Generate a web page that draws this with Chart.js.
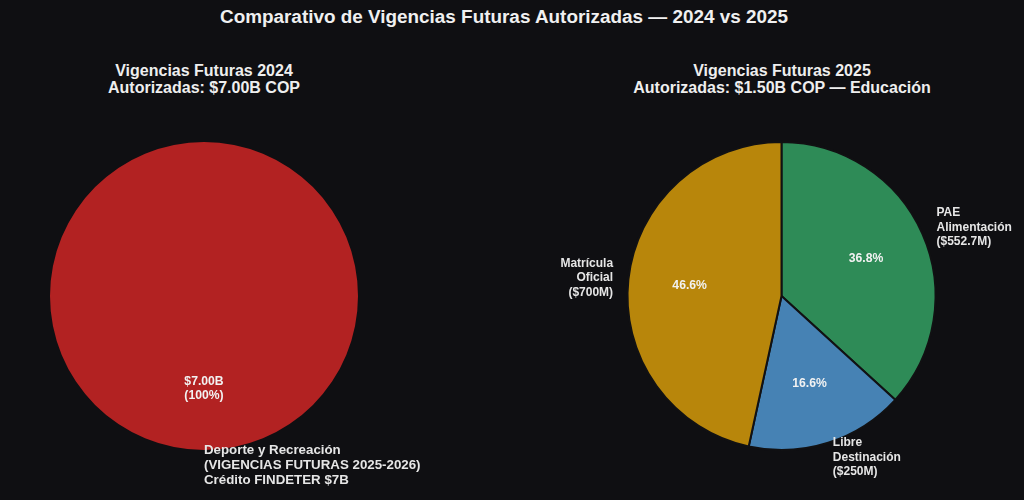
<!DOCTYPE html>
<html><head><meta charset="utf-8">
<script src="https://cdn.jsdelivr.net/npm/chart.js@4.4.1/dist/chart.umd.min.js"></script>
<style>
html,body{margin:0;padding:0;background:#0f0f12;width:1024px;height:500px;overflow:hidden;font-family:"Liberation Sans",Arial,sans-serif;}
#title{position:absolute;left:-8px;top:6px;width:1024px;text-align:center;color:#f0f0f0;font-weight:bold;font-size:18.9px;line-height:22px;white-space:nowrap;}
.sub{position:absolute;top:62px;width:400px;text-align:center;color:#eeeeee;font-weight:bold;font-size:16px;line-height:17px;white-space:nowrap;}
.wrap{position:absolute;top:0;width:512px;height:500px;}
</style></head>
<body>
<div id="title">Comparativo de Vigencias Futuras Autorizadas — 2024 vs 2025</div>
<div class="sub" style="left:4px">Vigencias Futuras 2024<br>Autorizadas: $7.00B COP</div>
<div class="sub" style="left:582px">Vigencias Futuras 2025<br>Autorizadas: $1.50B COP — Educación</div>
<div class="wrap" style="left:0"><canvas id="c1" width="512" height="500"></canvas></div>
<div class="wrap" style="left:512px"><canvas id="c2" width="512" height="500"></canvas></div>
<script>
// ---- Data (values in millions of COP) ----
const categories2024 = ["Deporte y Recreación\n(VIGENCIAS FUTURAS 2025-2026)\nCrédito FINDETER $7B"];
const values2024 = [7000];
const colors2024 = ["#b22222"];

const categories2025 = ["PAE\nAlimentación", "Libre\nDestinación", "Matrícula\nOficial"];
const values2025 = [552.7, 250, 700];
const colors2025 = ["#2e8b57", "#4682b4", "#b8860b"];

const FONT = '"Liberation Sans", Arial, sans-serif';

function fmtM(v){ return Number.isInteger(v) ? String(v) : v.toFixed(1); }

function drawLines(ctx, lines, x, y, align, lh){
  ctx.textAlign = align;
  ctx.textBaseline = 'middle';
  const n = lines.length;
  lines.forEach((t, k) => {
    ctx.fillText(t, x, y + (k - (n - 1) / 2) * lh);
  });
}

const sliceLabels = {
  id: 'sliceLabels',
  afterDatasetsDraw(chart, args, opts){
    const ctx = chart.ctx;
    const meta = chart.getDatasetMeta(0);
    const data = chart.data.datasets[0].data;
    const total = data.reduce((a, b) => a + b, 0);
    ctx.save();
    meta.data.forEach((arc, i) => {
      const p = arc.getProps(['x', 'y', 'startAngle', 'endAngle', 'outerRadius'], true);
      const mid = (p.startAngle + p.endAngle) / 2;
      const c = Math.cos(mid), s = Math.sin(mid);
      // inner label
      ctx.font = 'bold 12.2px ' + FONT;
      ctx.fillStyle = '#f2f2f2';
      const inner = opts.inner(data[i], total);
      drawLines(ctx, inner, p.x + c * p.outerRadius * 0.6, p.y + s * p.outerRadius * 0.6, 'center', 14.5);
      // outer label
      ctx.font = 'bold ' + opts.outerSize + 'px ' + FONT;
      ctx.fillStyle = '#e6e6e6';
      const outer = opts.outer(chart.data.labels[i], data[i]);
      drawLines(ctx, outer, p.x + c * p.outerRadius * 1.1, p.y + s * p.outerRadius * 1.1, c >= 0 ? 'left' : 'right', opts.outerLH);
    });
    ctx.restore();
  }
};

function makePie(id, labels, values, colors, bw, padding, inner, outer, outerSize, outerLH){
  return new Chart(document.getElementById(id), {
    type: 'pie',
    data: {
      labels: labels,
      datasets: [{
        data: values,
        backgroundColor: colors,
        borderColor: '#111113',
        borderWidth: bw,
        hoverOffset: 0,
        offset: 0
      }]
    },
    options: {
      responsive: false,
      animation: false,
      devicePixelRatio: 1,
      layout: { padding: padding },
      plugins: {
        legend: { display: false },
        tooltip: { enabled: false },
        title: { display: false },
        sliceLabels: { inner: inner, outer: outer, outerSize: outerSize, outerLH: outerLH }
      }
    },
    plugins: [sliceLabels]
  });
}

makePie('c1', categories2024, values2024, colors2024, 0,
  { left: 50, right: 154, top: 142, bottom: 50 },
  (v, t) => ['$' + (v / 1000).toFixed(2) + 'B', '(' + Math.round(v / t * 100) + '%)'],
  (lab, v) => lab.split('\n'), 13.3, 15);

makePie('c2', categories2025, values2025, colors2025, 2,
  { left: 114.5, right: 87.5, top: 141, bottom: 49 },
  (v, t) => [(v / t * 100).toFixed(1) + '%'],
  (lab, v) => lab.split('\n').concat(['($' + fmtM(v) + 'M)']), 12, 14.5);
</script>
</body></html>
